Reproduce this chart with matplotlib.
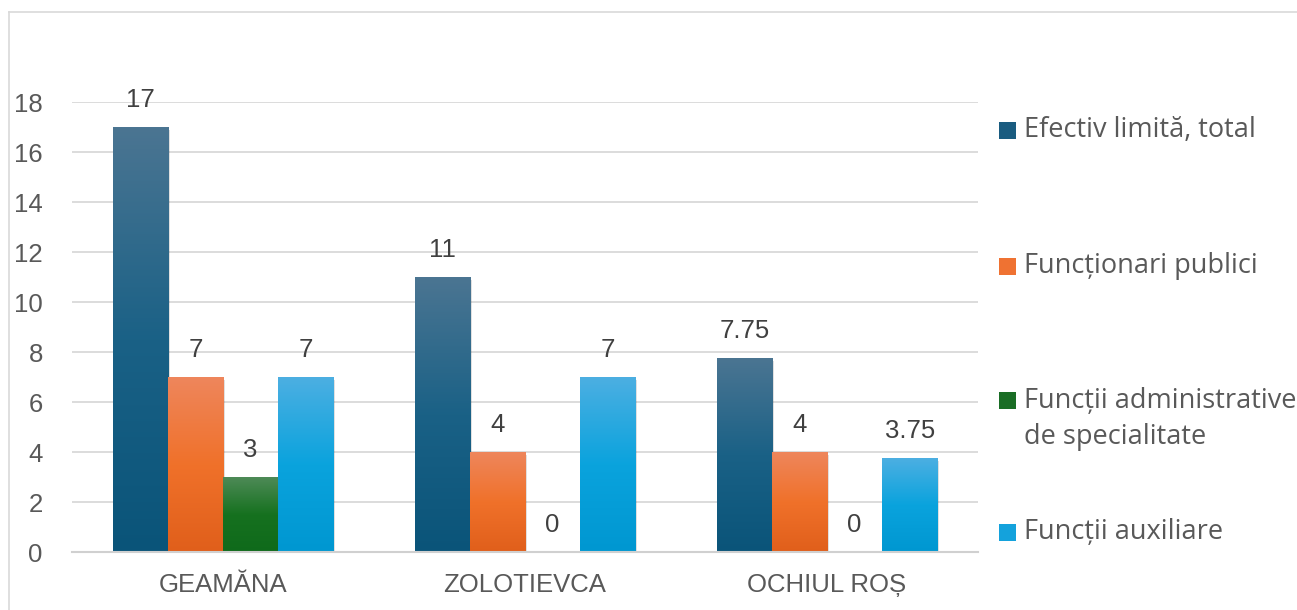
import numpy as np
import matplotlib
matplotlib.use("Agg")
import matplotlib.pyplot as plt
from matplotlib.patches import Rectangle
from matplotlib.colors import LinearSegmentedColormap
from matplotlib.lines import Line2D

categories = ["GEAMĂNA", "ZOLOTIEVCA", "OCHIUL ROȘ"]
series_names = ["Efectiv limită, total", "Funcționari publici",
                "Funcții administrative\nde specialitate", "Funcții auxiliare"]
efectiv = [17, 11, 7.75]
functionari = [7, 4, 4]
administrative = [3, 0, 0]
auxiliare = [7, 7, 3.75]
series_values = [efectiv, functionari, administrative, auxiliare]
yticks = [0, 2, 4, 6, 8, 10, 12, 14, 16, 18]

# gradient stops (top, middle, bottom)
grads = [
    ("#4b7592", "#1a6186", "#0a5479"),
    ("#ee865c", "#f0712a", "#e05f1b"),
    ("#4e8a57", "#16711f", "#0f6a1b"),
    ("#4cafe2", "#0aa3dd", "#0097d1"),
]
mids = ["#1a5c80", "#ef7232", "#1a6d25", "#14a2dc"]

W, H = 1297, 610
fig = plt.figure(figsize=(W / 100, H / 100), dpi=100)
ax = fig.add_axes([72 / W, 58 / H, 906 / W, 450 / H])

x = np.arange(len(categories))
bw = 0.1825
nser = len(series_values)
tick_font = "Liberation Sans"
txt_col = "#595959"
FS = 18.5

for i, vals in enumerate(series_values):
    offs = (i - (nser - 1) / 2) * bw
    bars = ax.bar(x + offs, vals, width=bw, color=mids[i], zorder=3, linewidth=0)
    top, mid, bot = grads[i]
    cmap = LinearSegmentedColormap.from_list(f"g{i}", [bot, mid, top])
    grad = np.linspace(0, 1, 256).reshape(-1, 1)
    for b, v in zip(bars, vals):
        if v > 0:
            sh = Rectangle((b.get_x() + 0.006, -0.12), b.get_width(), v,
                           facecolor="#000000", alpha=0.12, linewidth=0, zorder=2)
            ax.add_patch(sh)
            im = ax.imshow(grad, extent=[b.get_x(), b.get_x() + b.get_width(), 0, v],
                           origin="lower", cmap=cmap, aspect="auto", zorder=3.5,
                           interpolation="bilinear")
            im.set_clip_path(b)
        ax.annotate(f"{v:g}", (b.get_x() + b.get_width() / 2, v), xytext=(0, 11),
                    textcoords="offset points", ha="center", va="bottom",
                    fontsize=FS, color="#404040", family=tick_font, zorder=5)

ax.set_xlim(-0.5, len(categories) - 0.5)
ax.set_ylim(0, 18)
ax.set_yticks(yticks)
ax.set_xticks(x)
ax.set_xticklabels(categories)
ax.tick_params(axis="both", length=0, labelsize=FS, labelcolor=txt_col)
ax.tick_params(axis="y", pad=21)
ax.tick_params(axis="x", pad=15)
for t in ax.get_xticklabels() + ax.get_yticklabels():
    t.set_family(tick_font)
ax.grid(axis="y", color="#d9d9d9", linewidth=1.3, zorder=0)
ax.set_axisbelow(True)
for s in ["top", "right", "left"]:
    ax.spines[s].set_visible(False)
ax.spines["bottom"].set_color("#d0d0d0")
ax.spines["bottom"].set_linewidth(1.5)
ax.spines["bottom"].set_zorder(4)

# legend (placed entry by entry, as in the reference layout)
leg_y = [130, 266, 400, 532]
for i, name in enumerate(series_names):
    yc = leg_y[i]
    fig.add_artist(Rectangle((999 / W, 1 - (yc + 9) / H), 17 / W, 17 / H,
                             transform=fig.transFigure, facecolor=mids[i],
                             edgecolor="none"))
    if "\n" in name:
        fig.text(1024 / W, 1 - (yc - 13) / H, name, ha="left", va="top",
                 fontsize=19.5, family="Open Sans", color=txt_col, linespacing=1.36)
    else:
        fig.text(1024 / W, 1 - yc / H, name, ha="left", va="center",
                 fontsize=19.5, family="Open Sans", color=txt_col)

# figure border (chart area)
fig.add_artist(Line2D([9 / W, 9 / W], [0, 1 - 12 / H], transform=fig.transFigure,
                      color="#d9d9d9", linewidth=1.2))
fig.add_artist(Line2D([9 / W, 1], [1 - 12 / H, 1 - 12 / H], transform=fig.transFigure,
                      color="#d9d9d9", linewidth=1.2))

fig.savefig("out.png", dpi=100)
